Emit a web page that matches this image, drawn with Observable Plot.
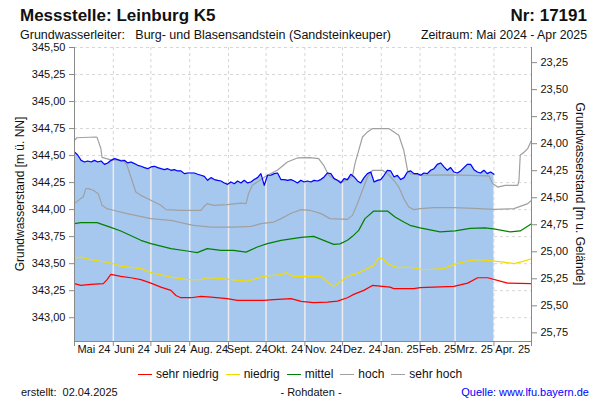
<!DOCTYPE html>
<html><head><meta charset="utf-8">
<script src="https://cdn.jsdelivr.net/npm/d3@7"></script>
<script src="https://cdn.jsdelivr.net/npm/@observablehq/plot@0.6"></script>
<style>
html,body{margin:0;padding:0;background:#fff;}
#chart{position:relative;width:600px;height:400px;font-family:"Liberation Sans",Arial,sans-serif;color:#111;}
#legend{position:absolute;left:0;top:366px;width:600px;display:flex;justify-content:center;gap:7px;font-size:12px;line-height:16px;}
#legend .sw{display:inline-block;width:14px;height:0;vertical-align:middle;margin-right:4px;border-top:1.5px solid;}
</style></head>
<body><div id="chart"><div id="legend"></div></div>
<script>
// ---------- data ----------
const titleText = "Messstelle: Leinburg K5";
const numberText = "Nr: 17191";
const aquiferText = "Grundwasserleiter:   Burg- und Blasensandstein (Sandsteinkeuper)";
const periodText = "Zeitraum: Mai 2024 - Apr 2025";
const createdText = "erstellt:  02.04.2025";
const rawText = "- Rohdaten -";
const sourceText = "Quelle: www.lfu.bayern.de";
const leftLabel = "Grundwasserstand [m ü. NN]";
const rightLabel = "Grundwasserstand [m u. Gelände]";

const periodStart = "2024-05-01", periodEnd = "2025-05-01";
const monthLabels = ["Mai 24","Juni 24","Juli 24","Aug. 24","Sept. 24","Okt. 24","Nov. 24","Dez. 24","Jan. 25","Feb. 25","Mrz. 25","Apr. 25"];
const levelTicks = [343.00,343.25,343.50,343.75,344.00,344.25,344.50,344.75,345.00,345.25,345.50];
const depthTicks = [23.25,23.50,23.75,24.00,24.25,24.50,24.75,25.00,25.25,25.50,25.75];
const groundLevel = 368.61;   // m ü. NN, converts level to depth below ground
const yLow = 342.78, yHigh = 345.50;

// measured level (Rohdaten), evenly spaced from measStart to measEnd
const measStart = "2024-05-01", measEnd = "2025-04-01";
const measuredLevels = [
344.534,344.503,344.456,344.441,344.450,344.441,344.456,344.441,344.450,344.419,
344.432,344.456,344.472,344.463,344.450,344.456,344.432,344.441,344.426,344.410,
344.401,344.389,344.379,344.395,344.401,344.389,344.379,344.370,344.379,344.364,
344.370,344.358,344.358,344.333,344.339,344.339,344.339,344.327,344.318,344.308,
344.271,344.296,344.278,344.271,344.265,344.247,344.234,344.256,344.240,344.265,
344.247,344.271,344.247,344.256,344.278,344.296,344.333,344.225,344.318,344.318,
344.333,344.339,344.278,344.278,344.271,344.278,
344.265,344.247,344.271,344.256,344.265,344.256,344.271,344.265,344.278,344.302,
344.339,344.333,344.287,344.271,344.247,344.287,344.278,344.327,344.302,344.265,
344.247,344.296,344.333,344.348,344.256,344.271,344.278,344.318,344.364,344.358,
344.302,344.318,344.278,344.296,344.348,344.358,344.333,344.333,344.318,344.339,
344.333,344.364,344.379,344.419,344.432,344.395,344.364,344.389,344.348,344.339,
344.358,344.389,344.419,344.419,344.370,344.348,344.339,344.364,344.333,344.348,
344.327];

const sehrHoch = [["2024-05-01",344.642],["2024-05-03",344.665],["2024-05-18",344.672],["2024-05-19",344.669],["2024-05-22",344.568],["2024-05-23",344.484],["2024-05-30",344.461],["2024-06-09",344.456],["2024-06-12",344.41],["2024-06-15",344.302],["2024-06-19",344.163],["2024-06-23",344.132],["2024-07-01",344.086],["2024-07-09",344.04],["2024-07-13",344.0],["2024-07-25",343.994],["2024-08-10",343.994],["2024-08-12",344.024],["2024-08-15",344.056],["2024-08-20",344.04],["2024-08-31",344.046],["2024-09-11",344.061],["2024-09-15",344.056],["2024-09-17",344.148],["2024-09-20",344.225],["2024-09-24",344.256],["2024-10-02",344.318],["2024-10-10",344.364],["2024-10-18",344.441],["2024-10-26",344.478],["2024-11-05",344.481],["2024-11-12",344.472],["2024-11-16",344.41],["2024-11-20",344.318],["2024-11-25",344.278],["2024-12-01",344.256],["2024-12-05",344.278],["2024-12-09",344.308],["2024-12-11",344.426],["2024-12-14",344.549],["2024-12-17",344.672],["2024-12-21",344.719],["2024-12-25",344.75],["2025-01-07",344.75],["2025-01-15",344.688],["2025-01-19",344.549],["2025-01-22",344.364],["2025-01-24",344.333],["2025-02-01",344.318],["2025-02-25",344.322],["2025-03-28",344.313],["2025-03-31",344.241],["2025-04-04",344.209],["2025-04-10",344.225],["2025-04-20",344.225],["2025-04-21",344.271],["2025-04-22",344.503],["2025-04-25",344.531],["2025-04-28",344.565],["2025-05-01",344.642]];

const hoch = [["2024-05-01",344.058],["2024-05-06",344.102],["2024-05-08",344.117],["2024-05-10",344.194],["2024-05-12",344.194],["2024-05-16",344.179],["2024-05-20",344.148],["2024-05-23",344.04],["2024-05-27",344.009],["2024-06-01",343.994],["2024-06-12",343.963],["2024-07-01",343.917],["2024-07-17",343.901],["2024-08-04",343.855],["2024-08-18",343.839],["2024-09-05",343.839],["2024-09-19",343.845],["2024-09-27",343.87],["2024-10-07",343.885],["2024-10-13",343.917],["2024-10-21",343.966],["2024-10-29",344.0],["2024-11-05",343.994],["2024-11-14",343.963],["2024-11-21",343.917],["2024-12-05",343.91],["2024-12-09",343.947],["2024-12-13",344.056],["2024-12-17",344.179],["2024-12-21",344.302],["2024-12-25",344.364],["2025-01-02",344.364],["2025-01-06",344.333],["2025-01-11",344.271],["2025-01-15",344.209],["2025-01-19",344.102],["2025-01-23",344.024],["2025-01-27",344.0],["2025-02-01",344.009],["2025-02-12",344.019],["2025-02-28",344.019],["2025-03-16",344.012],["2025-04-01",344.003],["2025-04-17",344.009],["2025-04-28",344.056],["2025-05-01",344.086]];

const mittel = [["2024-05-01",343.87],["2024-05-06",343.88],["2024-05-19",343.88],["2024-05-30",343.836],["2024-06-07",343.802],["2024-06-23",343.716],["2024-07-01",343.685],["2024-07-17",343.639],["2024-07-30",343.617],["2024-08-07",343.602],["2024-08-15",343.639],["2024-08-26",343.623],["2024-09-05",343.623],["2024-09-15",343.607],["2024-09-24",343.654],["2024-10-02",343.685],["2024-10-13",343.716],["2024-10-29",343.744],["2024-11-08",343.753],["2024-11-16",343.716],["2024-11-24",343.679],["2024-11-29",343.683],["2024-12-05",343.716],["2024-12-09",343.753],["2024-12-14",343.808],["2024-12-19",343.917],["2024-12-26",343.987],["2025-01-06",343.987],["2025-01-12",343.931],["2025-01-19",343.885],["2025-01-24",343.855],["2025-02-01",343.831],["2025-02-17",343.794],["2025-03-01",343.803],["2025-03-13",343.826],["2025-03-25",343.831],["2025-04-02",343.819],["2025-04-14",343.794],["2025-04-22",343.803],["2025-05-01",343.869]];

const niedrig = [["2024-05-01",343.552],["2024-05-06",343.561],["2024-05-14",343.537],["2024-05-30",343.506],["2024-06-07",343.478],["2024-06-23",343.454],["2024-07-01",343.417],["2024-07-17",343.376],["2024-07-30",343.352],["2024-08-10",343.352],["2024-08-15",343.37],["2024-08-26",343.361],["2024-09-03",343.352],["2024-09-16",343.339],["2024-09-29",343.382],["2024-10-13",343.398],["2024-10-17",343.417],["2024-10-23",343.382],["2024-11-14",343.382],["2024-11-19",343.33],["2024-11-24",343.29],["2024-11-29",343.33],["2024-12-05",343.382],["2024-12-13",343.413],["2024-12-21",343.454],["2024-12-26",343.484],["2024-12-30",343.556],["2025-01-02",343.546],["2025-01-07",343.494],["2025-01-14",343.463],["2025-01-22",343.469],["2025-02-04",343.444],["2025-02-20",343.454],["2025-02-28",343.494],["2025-03-11",343.524],["2025-03-19",343.537],["2025-04-01",343.524],["2025-04-09",343.515],["2025-04-17",343.5],["2025-04-25",343.524],["2025-05-01",343.546]];

const sehrNiedrig = [["2024-05-01",343.315],["2024-05-06",343.299],["2024-05-14",343.308],["2024-05-24",343.315],["2024-05-27",343.352],["2024-05-30",343.401],["2024-06-07",343.382],["2024-06-15",343.37],["2024-06-23",343.352],["2024-07-01",343.32],["2024-07-09",343.283],["2024-07-17",343.253],["2024-07-21",343.206],["2024-07-25",343.185],["2024-08-02",343.185],["2024-08-10",343.197],["2024-08-18",343.191],["2024-08-31",343.176],["2024-09-08",343.16],["2024-09-29",343.16],["2024-10-07",343.167],["2024-10-21",343.176],["2024-10-29",343.151],["2024-11-08",343.139],["2024-11-19",343.144],["2024-11-27",343.154],["2024-12-05",343.185],["2024-12-10",343.216],["2024-12-18",343.253],["2024-12-25",343.299],["2025-01-08",343.283],["2025-01-11",343.269],["2025-01-27",343.269],["2025-02-01",343.278],["2025-02-28",343.29],["2025-03-11",343.32],["2025-03-19",343.37],["2025-03-27",343.37],["2025-04-06",343.339],["2025-04-12",343.32],["2025-05-01",343.315]];

const legendLabels = ["sehr niedrig","niedrig","mittel","hoch","sehr hoch"];
const legendColors = ["#ff0000","#f2dc00","#008000","#a0a0a0","#a0a0a0"];

// ---------- build ----------
const fmt = v => d3.format(".2f")(v).replace(".", ",");
const rows = pairs => pairs.map(([d, v]) => ({date: new Date(d), value: v}));
const start = new Date(periodStart), end = new Date(periodEnd);
const monthStarts = d3.utcMonth.range(start, d3.utcDay.offset(end, 1));
const monthMids = monthStarts.slice(0, -1).map((d, i) => ({date: new Date((+d + +monthStarts[i + 1]) / 2), label: monthLabels[i]}));
const mS = new Date(measStart), mE = new Date(measEnd);
const meas = measuredLevels.map((v, i) => ({date: new Date(+mS + (mE - mS) * i / (measuredLevels.length - 1)), value: v}));
const bis = d3.bisector(d => d.date).center;
const innerRules = monthStarts.filter(d => d > mS && d < mE).map(d => ({date: d, value: meas[bis(meas, d)].value}));
const depthLevels = depthTicks.map(t => groundLevel - t);

const series = [
  [sehrNiedrig, legendColors[0]], [niedrig, legendColors[1]], [mittel, legendColors[2]],
  [hoch, legendColors[3]], [sehrHoch, legendColors[4]]
];
const axisColor = "#8a8a8a";

const svg = Plot.plot({
  width: 600, height: 400,
  marginLeft: 74, marginRight: 69, marginTop: 47, marginBottom: 59,
  x: {type: "utc", domain: [start, end]},
  y: {domain: [yLow, yHigh]},
  style: {fontFamily: '"Liberation Sans", Arial, sans-serif', fontSize: "11px", color: "#111", background: "#fff", overflow: "visible"},
  marks: [
    Plot.ruleY(levelTicks, {stroke: "#d6d6d6", strokeDasharray: "3,3"}),
    Plot.ruleX(monthStarts.slice(1, -1), {stroke: "#d6d6d6", strokeDasharray: "3,3"}),
    Plot.areaY(meas, {x: "date", y1: yLow, y2: "value", fill: "#a6c8ef"}),
    Plot.ruleX(innerRules, {x: "date", y1: yLow, y2: "value", stroke: "#ececec", strokeWidth: 1.5}),
    ...series.map(([s, c]) => Plot.line(rows(s), {x: "date", y: "value", stroke: c, strokeWidth: 1.2})),
    Plot.line(meas, {x: "date", y: "value", stroke: "#0000ff", strokeWidth: 1.2}),
    Plot.ruleX([start, end], {stroke: axisColor}),
    Plot.ruleY([yLow], {stroke: axisColor}),
    Plot.axisY(levelTicks, {anchor: "left", tickSize: 5, tickPadding: 4, tickFormat: fmt, label: null, stroke: axisColor, fill: "#111"}),
    Plot.axisY(depthLevels, {anchor: "right", tickSize: 5, tickPadding: 4, tickFormat: d => fmt(groundLevel - d), label: null, stroke: axisColor, fill: "#111"}),
    Plot.axisX(monthStarts, {tickSize: 5, tickFormat: () => "", label: null, stroke: axisColor}),
    Plot.text(monthMids, {x: "date", text: "label", frameAnchor: "bottom", dy: 11, fill: "#111", fontSize: 11})
  ]
});

const chart = document.getElementById("chart");
chart.insertBefore(svg, chart.firstChild);
const s = d3.select(svg);
const txt = (x, y, t, o = {}) => {
  const e = s.append("text").attr("x", x).attr("y", y).text(t)
    .style("white-space", "pre").attr("fill", o.fill || "#111")
    .attr("font-size", o.size || 12).attr("text-anchor", o.anchor || "start");
  if (o.bold) e.attr("font-weight", "bold");
  if (o.rotate) e.attr("transform", `rotate(${o.rotate},${x},${y})`).attr("dominant-baseline", "middle");
  return e;
};
txt(20, 21, titleText, {size: 17, bold: true});
txt(587, 21, numberText, {size: 17, bold: true, anchor: "end"});
txt(20, 39, aquiferText, {size: 12.5});
txt(587, 39, periodText, {size: 12.3, anchor: "end"});
txt(21, 194, leftLabel, {size: 12, anchor: "middle", rotate: -90});
txt(579, 194, rightLabel, {size: 12, anchor: "middle", rotate: 90});
txt(21, 396, createdText, {size: 11});
txt(311, 396, rawText, {size: 11, anchor: "middle"});
txt(589, 396, sourceText, {size: 11, anchor: "end", fill: "#0000ff"});

const legend = d3.select("#legend");
legendLabels.forEach((l, i) => {
  const it = legend.append("span");
  it.append("span").attr("class", "sw").style("border-top-color", legendColors[i]);
  it.append("span").text(l);
});
</script>
</body></html>
